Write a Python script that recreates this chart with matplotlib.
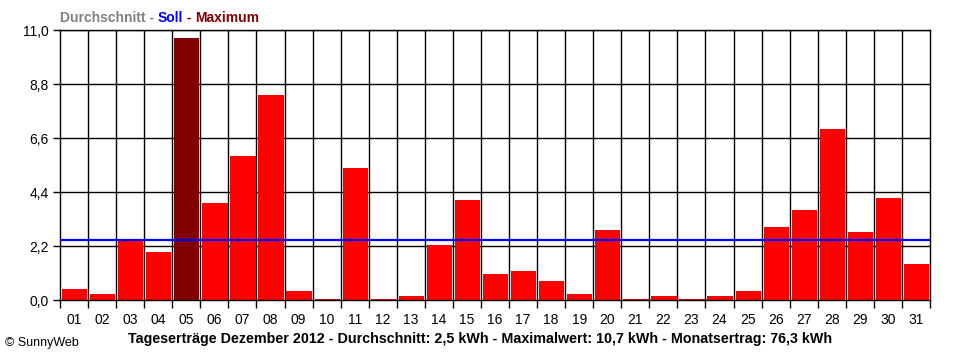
import matplotlib
matplotlib.use("Agg")
import matplotlib.pyplot as plt
import numpy as np

days = [f"{d:02d}" for d in range(1, 32)]
values = [0.47, 0.27, 2.40, 1.98, 10.70, 3.98, 5.89, 8.36, 0.38, 0.05,
          5.39, 0.05, 0.17, 2.25, 4.09, 1.07, 1.19, 0.79, 0.26, 2.86,
          0.05, 0.18, 0.05, 0.18, 0.38, 2.99, 3.68, 6.98, 2.78, 4.17, 1.48]
average = 2.46
yticks = [0.0, 2.2, 4.4, 6.6, 8.8, 11.0]
ytick_labels = ["0,0", "2,2", "4,4", "6,6", "8,8", "11,0"]
title = "Tageserträge Dezember 2012 - Durchschnitt: 2,5 kWh - Maximalwert: 10,7 kWh - Monatsertrag: 76,3 kWh"

plt.rcParams['font.family'] = ['Liberation Sans', 'DejaVu Sans']

fig = plt.figure(figsize=(9.6, 3.6), dpi=100)
ax = fig.add_axes([60/960, 1-300.3/360, 870/960, 270/360])

x = np.arange(1, 32)
maxi = int(np.argmax(values))
colors = ['#ff0000'] * 31
colors[maxi] = '#800000'

ax.set_xlim(0.5, 31.5)
ax.set_ylim(0, 11.0)

# grid
for yv in yticks[1:]:
    ax.axhline(yv, color='black', lw=1.0, zorder=1)
for b in np.arange(1.5, 31.5, 1.0):
    ax.axvline(b, color='black', lw=1.0, zorder=1)

ax.bar(x + 0.02, values, width=0.9, color=colors, zorder=2)
ax.axhline(average, color='#0000ff', lw=1.6, zorder=3)

ax.set_yticks(yticks)
ax.set_yticklabels(ytick_labels, fontsize=10)
ax.set_xticks(x)
ax.set_xticklabels(days, fontsize=10)
ax.tick_params(axis='x', which='major', length=0, pad=9)
ax.set_xticks(np.arange(0.5, 32.0, 1.0), minor=True)
ax.tick_params(axis='x', which='minor', length=6, width=1.0, direction='out')
ax.tick_params(axis='y', length=5, width=1.0, pad=3)
for s in ax.spines.values():
    s.set_color('black')
    s.set_linewidth(1.0)

# legend text
renderer = fig.canvas.get_renderer()
parts = [("Durchschnitt - ", '#808080'), ("Soll", '#0000ff'), (" - ", '#800000'), ("Maximum", '#800000')]
xpos = 60
for txt, col in parts:
    t = fig.text(xpos/960, 1-18/360, txt, color=col, fontsize=10,
                 fontweight='bold', va='center', ha='left')
    bb = t.get_window_extent(renderer=renderer)
    xpos += bb.width

fig.text(480/960, 1-339/360, title, fontsize=10.3, fontweight='bold',
         ha='center', va='center', color='black')
fig.text(5/960, 1-343/360, "© SunnyWeb", fontsize=9, ha='left', va='center', color='black')

fig.savefig("out.png", dpi=100)
